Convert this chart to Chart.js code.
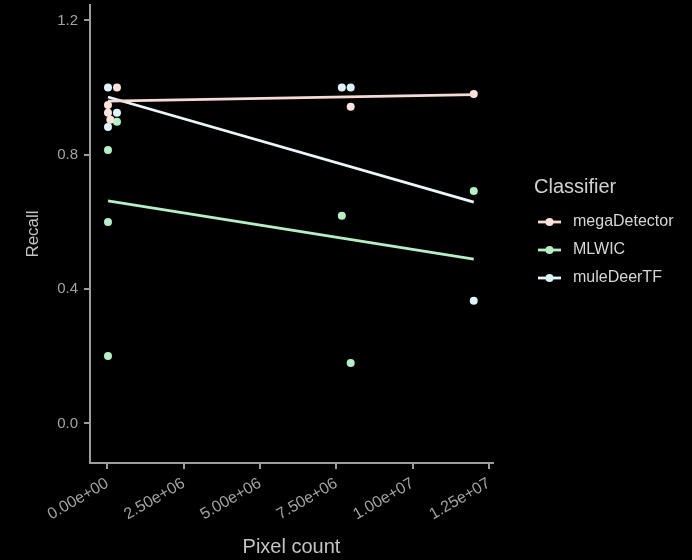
<!DOCTYPE html>
<html>
<head>
<meta charset="utf-8">
<script src="https://cdn.jsdelivr.net/npm/chart.js@4/dist/chart.umd.min.js"></script>
<style>
  html, body { margin: 0; padding: 0; background: #000; }
  #wrap { width: 692px; height: 560px; }
</style>
</head>
<body>
<div id="wrap"><canvas id="c" width="692" height="560"></canvas></div>
<script>
// Recall of each classifier against image pixel count
const classifiers = ['megaDetector', 'MLWIC', 'muleDeerTF'];

const megaDetectorPixels = [317e3, 23e3, 23e3, 100e3, 7.97e6, 12.0e6];
const megaDetectorRecall = [1.0, 0.948, 0.925, 0.904, 0.943, 0.981];

const mlwicPixels = [23e3, 317e3, 23e3, 23e3, 7.68e6, 7.97e6, 12.0e6];
const mlwicRecall = [0.814, 0.898, 0.600, 0.201, 0.618, 0.180, 0.692];

const muleDeerTFPixels = [23e3, 317e3, 23e3, 7.68e6, 7.97e6, 12.0e6];
const muleDeerTFRecall = [1.0, 0.925, 0.883, 1.0, 1.0, 0.365];

// fitted linear trend: recall at the smallest and largest pixel count
const megaDetectorTrend = [0.960, 0.979];
const mlwicTrend = [0.663, 0.489];
const muleDeerTFTrend = [0.972, 0.659];

const xTickValues = [0, 2.5e6, 5e6, 7.5e6, 1e7, 1.25e7];
const xTickLabels = ['0.00e+00', '2.50e+06', '5.00e+06', '7.50e+06', '1.00e+07', '1.25e+07'];
const yTickValues = [0, 0.4, 0.8, 1.2];
const yTickLabels = ['0.0', '0.4', '0.8', '1.2'];

const pointColors = ['#fde2dd', '#b6efc6', '#def3f8'];
const lineColors = ['#f6dad4', '#b6efc6', '#eaf6f8'];

const FONT = '"Liberation Sans", Arial, Helvetica, sans-serif';
const axisGrey = '#9c9c9c';
const tickGrey = '#a3a3a3';
const titleGrey = '#c4c4c4';

function pts(xs, ys) { return xs.map((x, i) => ({ x: x, y: ys[i] })); }
function trend(xs, ends) {
  return [{ x: Math.min(...xs), y: ends[0] }, { x: Math.max(...xs), y: ends[1] }];
}

const seriesX = [megaDetectorPixels, mlwicPixels, muleDeerTFPixels];
const seriesY = [megaDetectorRecall, mlwicRecall, muleDeerTFRecall];
const trends = [megaDetectorTrend, mlwicTrend, muleDeerTFTrend];

const datasets = [];
classifiers.forEach((name, i) => {
  datasets.push({
    label: name + ' fit',
    data: trend(seriesX[i], trends[i]),
    showLine: true,
    borderColor: lineColors[i],
    borderWidth: 2.8,
    pointRadius: 0,
    order: 1
  });
});
classifiers.forEach((name, i) => {
  datasets.push({
    label: name,
    data: pts(seriesX[i], seriesY[i]),
    showLine: false,
    backgroundColor: pointColors[i],
    borderColor: pointColors[i],
    borderWidth: 0,
    pointRadius: 4,
    order: 2
  });
});

// legend drawn to the right of the plot panel
const sideLegend = {
  id: 'sideLegend',
  afterDraw(chart) {
    const ctx = chart.ctx;
    ctx.save();
    ctx.textBaseline = 'middle';
    ctx.textAlign = 'left';
    ctx.fillStyle = '#d2d2d2';
    ctx.font = '20px ' + FONT;
    ctx.fillText('Classifier', 534, 187);
    const rows = [222, 250, 278];
    classifiers.forEach((name, i) => {
      const y = rows[i];
      ctx.strokeStyle = lineColors[i];
      ctx.lineWidth = 2.8;
      ctx.beginPath();
      ctx.moveTo(538, y);
      ctx.lineTo(561, y);
      ctx.stroke();
      ctx.fillStyle = pointColors[i];
      ctx.beginPath();
      ctx.arc(549.5, y, 4, 0, Math.PI * 2);
      ctx.fill();
      ctx.fillStyle = '#d6d6d6';
      ctx.font = '16px ' + FONT;
      ctx.fillText(name, 573, y);
    });
    ctx.restore();
  }
};

const blackBg = {
  id: 'blackBg',
  beforeDraw(chart) {
    const ctx = chart.ctx;
    ctx.save();
    ctx.fillStyle = '#000';
    ctx.fillRect(0, 0, chart.width, chart.height);
    ctx.restore();
  }
};

function noLabelPadding(s) {
  s.paddingTop = 0; s.paddingBottom = 0; s.paddingLeft = 0; s.paddingRight = 0;
}

new Chart(document.getElementById('c'), {
  type: 'scatter',
  data: { datasets: datasets },
  plugins: [blackBg, sideLegend],
  options: {
    responsive: false,
    animation: false,
    devicePixelRatio: 1,
    layout: { padding: { top: 5, right: 199, bottom: 0, left: 0 } },
    plugins: { legend: { display: false }, tooltip: { enabled: false } },
    scales: {
      x: {
        type: 'linear',
        min: -566000,
        max: 12630000,
        afterBuildTicks: s => { s.ticks = xTickValues.map(v => ({ value: v })); },
        afterFit: s => { s.height = 97; noLabelPadding(s); },
        grid: { display: true, drawOnChartArea: false, drawTicks: true, tickLength: 6, color: axisGrey, lineWidth: 2 },
        border: { display: true, color: axisGrey, width: 2 },
        ticks: {
          autoSkip: false, minRotation: 30, maxRotation: 30, padding: 5,
          color: tickGrey, font: { family: FONT, size: 16 },
          callback: (v, i) => xTickLabels[i]
        },
        title: {
          display: true, text: 'Pixel count', color: titleGrey,
          font: { family: FONT, size: 20 }, padding: { top: 0, bottom: 1 }
        }
      },
      y: {
        type: 'linear',
        min: -0.118,
        max: 1.246,
        afterBuildTicks: s => { s.ticks = yTickValues.map(v => ({ value: v })); },
        afterFit: s => { s.width = 90; noLabelPadding(s); },
        grid: { display: true, drawOnChartArea: false, drawTicks: true, tickLength: 6, color: axisGrey, lineWidth: 2 },
        border: { display: true, color: axisGrey, width: 2 },
        ticks: {
          padding: 6, color: tickGrey, font: { family: FONT, size: 15 },
          callback: (v, i) => yTickLabels[i]
        },
        title: {
          display: true, text: 'Recall', color: titleGrey,
          font: { family: FONT, size: 17 }, padding: { top: 23, bottom: 0 }
        }
      }
    }
  }
});
</script>
</body>
</html>
